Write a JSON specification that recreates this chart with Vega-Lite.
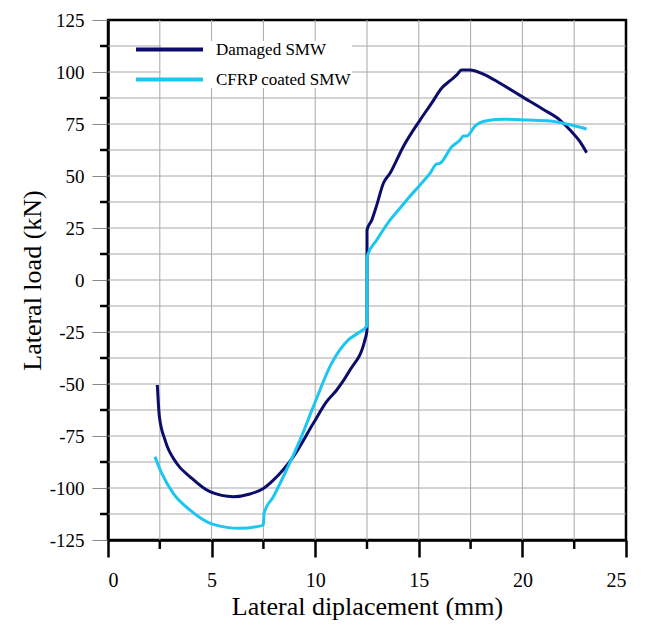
{
  "$schema": "https://vega.github.io/schema/vega-lite/v6.json",
  "autosize": "none",
  "width": 518,
  "height": 520,
  "padding": {"left": 108, "top": 20, "right": 22, "bottom": 86},
  "background": "white",
  "config": {
    "font": "Liberation Serif",
    "view": {"stroke": "black", "strokeWidth": 2.5},
    "axis": {"labelFont": "Liberation Serif", "labelFontSize": 20, "titleFont": "Liberation Serif", "titleFontWeight": "normal", "labelColor": "black", "titleColor": "black", "domainColor": "black", "domainWidth": 2.5, "grid": false},
    "axisX": {"tickColor": "black", "tickWidth": 2.5, "tickSize": 17, "labelPadding": 13, "titlePadding": 3},
    "axisY": {"labelFontSize": 19, "tickColor": "#888888", "tickWidth": 1, "tickSize": 16, "labelPadding": 8}
  },
  "layer": [
    {
      "data": {"values": [{"gx": 2.5}, {"gx": 5}, {"gx": 7.5}, {"gx": 10}, {"gx": 12.5}, {"gx": 15}, {"gx": 17.5}, {"gx": 20}, {"gx": 22.5}]},
      "mark": {"type": "rule", "color": "#a8a8a8", "strokeWidth": 1},
      "encoding": {
        "x": {
          "field": "gx", "type": "quantitative",
          "scale": {"domain": [0, 25], "nice": false, "zero": false},
          "axis": {
            "title": "Lateral diplacement (mm)",
            "titleFontSize": 26,
            "values": [0, 5, 10, 15, 20, 25],
            "labelFontSize": 20
          }
        }
      }
    },
    {
      "data": {"values": [{"gy": -112.5}, {"gy": -100}, {"gy": -87.5}, {"gy": -75}, {"gy": -62.5}, {"gy": -50}, {"gy": -37.5}, {"gy": -25}, {"gy": -12.5}, {"gy": 0}, {"gy": 12.5}, {"gy": 25}, {"gy": 37.5}, {"gy": 50}, {"gy": 62.5}, {"gy": 75}, {"gy": 87.5}, {"gy": 100}, {"gy": 112.5}]},
      "mark": {"type": "rule", "color": "#a8a8a8", "strokeWidth": 1},
      "encoding": {
        "y": {
          "field": "gy", "type": "quantitative",
          "scale": {"domain": [-125, 125], "nice": false, "zero": false},
          "axis": {
            "title": "Lateral load (kN)",
            "titleFontSize": 26,
            "values": [-125, -100, -75, -50, -25, 0, 25, 50, 75, 100, 125],
            "labelExpr": "(datum.value < 0 ? '-' : '') + abs(datum.value)",
            "labelFontSize": 19
          }
        }
      }
    },
    {
      "data": {"values": [{"mx": 2.5}, {"mx": 7.5}, {"mx": 12.5}, {"mx": 17.5}, {"mx": 22.5}]},
      "mark": {"type": "rule", "color": "black", "strokeWidth": 2.5, "clip": false},
      "encoding": {
        "x": {"field": "mx", "type": "quantitative"},
        "y": {"datum": -125},
        "y2": {"datum": -129.3}
      }
    },
    {
      "data": {"values": [{"my": -112.5}, {"my": -87.5}, {"my": -62.5}, {"my": -37.5}, {"my": -12.5}, {"my": 12.5}, {"my": 37.5}, {"my": 62.5}, {"my": 87.5}, {"my": 112.5}]},
      "mark": {"type": "rule", "color": "black", "strokeWidth": 2.5, "clip": false},
      "encoding": {
        "y": {"field": "my", "type": "quantitative"},
        "x": {"datum": 0},
        "x2": {"datum": -0.386}
      }
    },
    {
      "data": {
        "values": [
          {"s": "Damaged SMW", "o": 1, "x": 2.38, "y": -50.5},
          {"s": "Damaged SMW", "o": 2, "x": 2.48, "y": -65.7},
          {"s": "Damaged SMW", "o": 3, "x": 2.75, "y": -76.9},
          {"s": "Damaged SMW", "o": 4, "x": 3.31, "y": -88.1},
          {"s": "Damaged SMW", "o": 5, "x": 3.96, "y": -94.6},
          {"s": "Damaged SMW", "o": 6, "x": 4.92, "y": -101.8},
          {"s": "Damaged SMW", "o": 7, "x": 6.05, "y": -104.2},
          {"s": "Damaged SMW", "o": 8, "x": 6.85, "y": -102.9},
          {"s": "Damaged SMW", "o": 9, "x": 7.5, "y": -100.2},
          {"s": "Damaged SMW", "o": 10, "x": 7.98, "y": -96.2},
          {"s": "Damaged SMW", "o": 11, "x": 8.94, "y": -85},
          {"s": "Damaged SMW", "o": 12, "x": 9.91, "y": -68.9},
          {"s": "Damaged SMW", "o": 13, "x": 10.55, "y": -58.5},
          {"s": "Damaged SMW", "o": 14, "x": 11.04, "y": -52.9},
          {"s": "Damaged SMW", "o": 15, "x": 11.68, "y": -43.3},
          {"s": "Damaged SMW", "o": 16, "x": 12.4, "y": -28.8},
          {"s": "Damaged SMW", "o": 17, "x": 12.5, "y": -24},
          {"s": "Damaged SMW", "o": 18, "x": 12.5, "y": 24},
          {"s": "Damaged SMW", "o": 19, "x": 12.73, "y": 28.8},
          {"s": "Damaged SMW", "o": 20, "x": 12.97, "y": 36},
          {"s": "Damaged SMW", "o": 21, "x": 13.29, "y": 46.5},
          {"s": "Damaged SMW", "o": 22, "x": 13.61, "y": 51.3},
          {"s": "Damaged SMW", "o": 23, "x": 14.25, "y": 64.1},
          {"s": "Damaged SMW", "o": 24, "x": 15.06, "y": 76.9},
          {"s": "Damaged SMW", "o": 25, "x": 15.62, "y": 85},
          {"s": "Damaged SMW", "o": 26, "x": 16.1, "y": 92.2},
          {"s": "Damaged SMW", "o": 27, "x": 16.51, "y": 95.8},
          {"s": "Damaged SMW", "o": 28, "x": 16.83, "y": 98.6},
          {"s": "Damaged SMW", "o": 29, "x": 17.07, "y": 101},
          {"s": "Damaged SMW", "o": 30, "x": 17.47, "y": 101},
          {"s": "Damaged SMW", "o": 31, "x": 18.11, "y": 99},
          {"s": "Damaged SMW", "o": 32, "x": 18.92, "y": 94.6},
          {"s": "Damaged SMW", "o": 33, "x": 20.04, "y": 87.8},
          {"s": "Damaged SMW", "o": 34, "x": 21.01, "y": 82},
          {"s": "Damaged SMW", "o": 35, "x": 21.81, "y": 76.9},
          {"s": "Damaged SMW", "o": 36, "x": 22.3, "y": 72.1},
          {"s": "Damaged SMW", "o": 37, "x": 22.78, "y": 66.5},
          {"s": "Damaged SMW", "o": 38, "x": 23.1, "y": 61.2},
          {"s": "CFRP coated SMW", "o": 1, "x": 2.27, "y": -85},
          {"s": "CFRP coated SMW", "o": 2, "x": 2.59, "y": -92.9},
          {"s": "CFRP coated SMW", "o": 3, "x": 3.15, "y": -102.6},
          {"s": "CFRP coated SMW", "o": 4, "x": 3.96, "y": -110.6},
          {"s": "CFRP coated SMW", "o": 5, "x": 5.08, "y": -117.5},
          {"s": "CFRP coated SMW", "o": 6, "x": 6.37, "y": -119.4},
          {"s": "CFRP coated SMW", "o": 7, "x": 7.17, "y": -118.6},
          {"s": "CFRP coated SMW", "o": 8, "x": 7.5, "y": -117.8},
          {"s": "CFRP coated SMW", "o": 9, "x": 7.53, "y": -112.2},
          {"s": "CFRP coated SMW", "o": 10, "x": 7.98, "y": -104.2},
          {"s": "CFRP coated SMW", "o": 11, "x": 8.54, "y": -92.9},
          {"s": "CFRP coated SMW", "o": 12, "x": 9.27, "y": -76.9},
          {"s": "CFRP coated SMW", "o": 13, "x": 9.91, "y": -60.9},
          {"s": "CFRP coated SMW", "o": 14, "x": 10.79, "y": -40.1},
          {"s": "CFRP coated SMW", "o": 15, "x": 11.6, "y": -28.8},
          {"s": "CFRP coated SMW", "o": 16, "x": 12.07, "y": -25.5},
          {"s": "CFRP coated SMW", "o": 17, "x": 12.5, "y": -22},
          {"s": "CFRP coated SMW", "o": 18, "x": 12.5, "y": 11.2},
          {"s": "CFRP coated SMW", "o": 19, "x": 12.97, "y": 19.2},
          {"s": "CFRP coated SMW", "o": 20, "x": 13.61, "y": 28.8},
          {"s": "CFRP coated SMW", "o": 21, "x": 14.09, "y": 34.5},
          {"s": "CFRP coated SMW", "o": 22, "x": 14.42, "y": 38.5},
          {"s": "CFRP coated SMW", "o": 23, "x": 15.06, "y": 45.7},
          {"s": "CFRP coated SMW", "o": 24, "x": 15.54, "y": 51.3},
          {"s": "CFRP coated SMW", "o": 25, "x": 15.86, "y": 55.8},
          {"s": "CFRP coated SMW", "o": 26, "x": 16.02, "y": 56.1},
          {"s": "CFRP coated SMW", "o": 27, "x": 16.59, "y": 64.1},
          {"s": "CFRP coated SMW", "o": 28, "x": 16.99, "y": 67.3},
          {"s": "CFRP coated SMW", "o": 29, "x": 17.15, "y": 69.2},
          {"s": "CFRP coated SMW", "o": 30, "x": 17.31, "y": 69.2},
          {"s": "CFRP coated SMW", "o": 31, "x": 17.71, "y": 74},
          {"s": "CFRP coated SMW", "o": 32, "x": 18.28, "y": 76.6},
          {"s": "CFRP coated SMW", "o": 33, "x": 19.08, "y": 77.3},
          {"s": "CFRP coated SMW", "o": 34, "x": 20.21, "y": 76.9},
          {"s": "CFRP coated SMW", "o": 35, "x": 21.33, "y": 76.4},
          {"s": "CFRP coated SMW", "o": 36, "x": 22.14, "y": 75},
          {"s": "CFRP coated SMW", "o": 37, "x": 23.1, "y": 72.6}
        ]
      },
      "mark": {"type": "line", "strokeWidth": 3, "interpolate": "monotone"},
      "encoding": {
        "x": {"field": "x", "type": "quantitative"},
        "y": {"field": "y", "type": "quantitative"},
        "color": {
          "field": "s", "type": "nominal",
          "scale": {"domain": ["Damaged SMW", "CFRP coated SMW"], "range": ["#0c0c6a", "#1cc6f2"]},
          "legend": {
            "title": null, "orient": "none", "legendX": 53, "legendY": 21,
            "symbolType": "M-6.7,0L6.7,0", "symbolSize": 100, "symbolStrokeWidth": 4,
            "labelFont": "Liberation Serif", "labelFontSize": 17, "labelColor": "black",
            "rowPadding": 12, "labelOffset": 38,
            "fillColor": "white"
          }
        },
        "order": {"field": "o", "type": "quantitative"}
      }
    }
  ]
}
